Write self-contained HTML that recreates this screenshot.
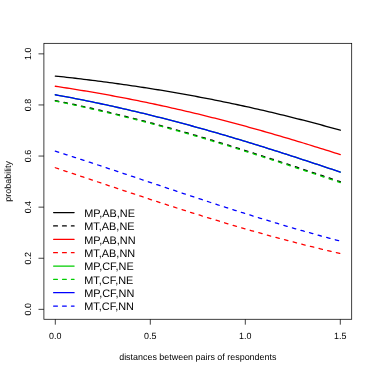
<!DOCTYPE html>
<html><head><meta charset="utf-8"><title>plot</title>
<style>
html,body{margin:0;padding:0;background:#fff;}
body{width:374px;height:374px;overflow:hidden;}
svg{display:block;will-change:transform;opacity:0.999;}
text{font-family:"Liberation Sans",sans-serif;fill:#000;text-rendering:geometricPrecision;}
.ax{font-size:8.93px;}
.lg{font-size:10.9px;}
.c{fill:none;stroke-width:1.3;stroke-linecap:round;stroke-linejoin:round;}
.d{stroke-dasharray:3.5 5.4;}
.b{fill:none;stroke:#000;stroke-width:0.75;}
.l{fill:none;stroke-width:1.25;stroke-linecap:round;}
.ld{stroke-dasharray:3.85 5.05;}
</style></head><body>
<svg width="374" height="374" viewBox="0 0 374 374">
<rect x="0" y="0" width="374" height="374" fill="#fff"/>
<path class="c" stroke="#00CD00" d="M55.30,94.75 L58.15,95.27 L61.00,95.80 L63.85,96.33 L66.70,96.87 L69.55,97.41 L72.40,97.96 L75.25,98.52 L78.10,99.08 L80.95,99.64 L83.80,100.22 L86.65,100.79 L89.50,101.37 L92.35,101.96 L95.20,102.55 L98.05,103.15 L100.90,103.76 L103.75,104.37 L106.60,104.98 L109.45,105.60 L112.30,106.23 L115.15,106.86 L118.00,107.50 L120.85,108.14 L123.70,108.79 L126.55,109.44 L129.40,110.10 L132.25,110.77 L135.10,111.44 L137.95,112.12 L140.80,112.80 L143.65,113.49 L146.50,114.18 L149.35,114.88 L152.20,115.58 L155.05,116.29 L157.90,117.01 L160.75,117.73 L163.60,118.45 L166.45,119.18 L169.30,119.92 L172.15,120.66 L175.00,121.41 L177.85,122.16 L180.70,122.92 L183.55,123.68 L186.40,124.45 L189.25,125.22 L192.10,126.00 L194.95,126.78 L197.80,127.57 L200.65,128.37 L203.50,129.17 L206.35,129.97 L209.20,130.78 L212.05,131.59 L214.90,132.41 L217.75,133.23 L220.60,134.06 L223.45,134.89 L226.30,135.73 L229.15,136.57 L232.00,137.41 L234.85,138.26 L237.70,139.12 L240.55,139.97 L243.40,140.84 L246.25,141.70 L249.10,142.57 L251.95,143.45 L254.80,144.33 L257.65,145.21 L260.50,146.10 L263.35,146.99 L266.20,147.88 L269.05,148.78 L271.90,149.68 L274.75,150.58 L277.60,151.49 L280.45,152.40 L283.30,153.31 L286.15,154.23 L289.00,155.15 L291.85,156.07 L294.70,156.99 L297.55,157.92 L300.40,158.85 L303.25,159.78 L306.10,160.72 L308.95,161.66 L311.80,162.60 L314.65,163.54 L317.50,164.48 L320.35,165.43 L323.20,166.37 L326.05,167.32 L328.90,168.27 L331.75,169.22 L334.60,170.18 L337.45,171.13 L340.30,172.09"/>
<path class="c" stroke="#0000FF" d="M55.30,94.75 L58.15,95.27 L61.00,95.80 L63.85,96.33 L66.70,96.87 L69.55,97.41 L72.40,97.96 L75.25,98.52 L78.10,99.08 L80.95,99.64 L83.80,100.22 L86.65,100.79 L89.50,101.37 L92.35,101.96 L95.20,102.55 L98.05,103.15 L100.90,103.76 L103.75,104.37 L106.60,104.98 L109.45,105.60 L112.30,106.23 L115.15,106.86 L118.00,107.50 L120.85,108.14 L123.70,108.79 L126.55,109.44 L129.40,110.10 L132.25,110.77 L135.10,111.44 L137.95,112.12 L140.80,112.80 L143.65,113.49 L146.50,114.18 L149.35,114.88 L152.20,115.58 L155.05,116.29 L157.90,117.01 L160.75,117.73 L163.60,118.45 L166.45,119.18 L169.30,119.92 L172.15,120.66 L175.00,121.41 L177.85,122.16 L180.70,122.92 L183.55,123.68 L186.40,124.45 L189.25,125.22 L192.10,126.00 L194.95,126.78 L197.80,127.57 L200.65,128.37 L203.50,129.17 L206.35,129.97 L209.20,130.78 L212.05,131.59 L214.90,132.41 L217.75,133.23 L220.60,134.06 L223.45,134.89 L226.30,135.73 L229.15,136.57 L232.00,137.41 L234.85,138.26 L237.70,139.12 L240.55,139.97 L243.40,140.84 L246.25,141.70 L249.10,142.57 L251.95,143.45 L254.80,144.33 L257.65,145.21 L260.50,146.10 L263.35,146.99 L266.20,147.88 L269.05,148.78 L271.90,149.68 L274.75,150.58 L277.60,151.49 L280.45,152.40 L283.30,153.31 L286.15,154.23 L289.00,155.15 L291.85,156.07 L294.70,156.99 L297.55,157.92 L300.40,158.85 L303.25,159.78 L306.10,160.72 L308.95,161.66 L311.80,162.60 L314.65,163.54 L317.50,164.48 L320.35,165.43 L323.20,166.37 L326.05,167.32 L328.90,168.27 L331.75,169.22 L334.60,170.18 L337.45,171.13 L340.30,172.09"/>
<path class="c" stroke="#FF0000" d="M55.30,86.25 L58.15,86.68 L61.00,87.11 L63.85,87.55 L66.70,87.99 L69.55,88.44 L72.40,88.89 L75.25,89.35 L78.10,89.81 L80.95,90.28 L83.80,90.75 L86.65,91.23 L89.50,91.71 L92.35,92.20 L95.20,92.69 L98.05,93.19 L100.90,93.69 L103.75,94.20 L106.60,94.72 L109.45,95.23 L112.30,95.76 L115.15,96.29 L118.00,96.82 L120.85,97.36 L123.70,97.91 L126.55,98.46 L129.40,99.01 L132.25,99.58 L135.10,100.14 L137.95,100.71 L140.80,101.29 L143.65,101.87 L146.50,102.46 L149.35,103.06 L152.20,103.66 L155.05,104.26 L157.90,104.87 L160.75,105.49 L163.60,106.11 L166.45,106.74 L169.30,107.37 L172.15,108.01 L175.00,108.65 L177.85,109.30 L180.70,109.95 L183.55,110.61 L186.40,111.28 L189.25,111.95 L192.10,112.62 L194.95,113.30 L197.80,113.99 L200.65,114.68 L203.50,115.38 L206.35,116.08 L209.20,116.79 L212.05,117.51 L214.90,118.23 L217.75,118.95 L220.60,119.68 L223.45,120.42 L226.30,121.16 L229.15,121.90 L232.00,122.65 L234.85,123.41 L237.70,124.17 L240.55,124.94 L243.40,125.71 L246.25,126.49 L249.10,127.27 L251.95,128.05 L254.80,128.85 L257.65,129.64 L260.50,130.44 L263.35,131.25 L266.20,132.06 L269.05,132.87 L271.90,133.69 L274.75,134.52 L277.60,135.35 L280.45,136.18 L283.30,137.02 L286.15,137.86 L289.00,138.71 L291.85,139.56 L294.70,140.41 L297.55,141.27 L300.40,142.14 L303.25,143.00 L306.10,143.87 L308.95,144.75 L311.80,145.63 L314.65,146.51 L317.50,147.39 L320.35,148.28 L323.20,149.18 L326.05,150.07 L328.90,150.97 L331.75,151.87 L334.60,152.78 L337.45,153.69 L340.30,154.60"/>
<path class="c" stroke="#000000" d="M55.30,76.04 L58.15,76.35 L61.00,76.66 L63.85,76.97 L66.70,77.29 L69.55,77.62 L72.40,77.94 L75.25,78.27 L78.10,78.61 L80.95,78.95 L83.80,79.29 L86.65,79.64 L89.50,79.99 L92.35,80.35 L95.20,80.71 L98.05,81.07 L100.90,81.44 L103.75,81.81 L106.60,82.19 L109.45,82.57 L112.30,82.95 L115.15,83.34 L118.00,83.74 L120.85,84.14 L123.70,84.54 L126.55,84.95 L129.40,85.36 L132.25,85.78 L135.10,86.20 L137.95,86.63 L140.80,87.06 L143.65,87.50 L146.50,87.94 L149.35,88.39 L152.20,88.84 L155.05,89.29 L157.90,89.75 L160.75,90.22 L163.60,90.69 L166.45,91.17 L169.30,91.65 L172.15,92.13 L175.00,92.62 L177.85,93.12 L180.70,93.62 L183.55,94.13 L186.40,94.64 L189.25,95.16 L192.10,95.68 L194.95,96.21 L197.80,96.74 L200.65,97.28 L203.50,97.82 L206.35,98.37 L209.20,98.92 L212.05,99.48 L214.90,100.04 L217.75,100.61 L220.60,101.19 L223.45,101.77 L226.30,102.36 L229.15,102.95 L232.00,103.54 L234.85,104.15 L237.70,104.75 L240.55,105.37 L243.40,105.99 L246.25,106.61 L249.10,107.24 L251.95,107.87 L254.80,108.51 L257.65,109.16 L260.50,109.81 L263.35,110.47 L266.20,111.13 L269.05,111.80 L271.90,112.47 L274.75,113.15 L277.60,113.83 L280.45,114.52 L283.30,115.22 L286.15,115.92 L289.00,116.63 L291.85,117.34 L294.70,118.05 L297.55,118.77 L300.40,119.50 L303.25,120.23 L306.10,120.97 L308.95,121.71 L311.80,122.46 L314.65,123.21 L317.50,123.97 L320.35,124.73 L323.20,125.50 L326.05,126.28 L328.90,127.05 L331.75,127.84 L334.60,128.63 L337.45,129.42 L340.30,130.22"/>
<path class="c d" stroke="#000000" d="M55.30,100.58 L58.15,101.16 L61.00,101.74 L63.85,102.33 L66.70,102.92 L69.55,103.52 L72.40,104.12 L75.25,104.73 L78.10,105.35 L80.95,105.97 L83.80,106.59 L86.65,107.22 L89.50,107.86 L92.35,108.50 L95.20,109.15 L98.05,109.80 L100.90,110.46 L103.75,111.13 L106.60,111.80 L109.45,112.47 L112.30,113.15 L115.15,113.84 L118.00,114.53 L120.85,115.23 L123.70,115.93 L126.55,116.64 L129.40,117.35 L132.25,118.07 L135.10,118.79 L137.95,119.52 L140.80,120.26 L143.65,121.00 L146.50,121.74 L149.35,122.49 L152.20,123.25 L155.05,124.01 L157.90,124.77 L160.75,125.54 L163.60,126.32 L166.45,127.10 L169.30,127.89 L172.15,128.68 L175.00,129.47 L177.85,130.27 L180.70,131.08 L183.55,131.89 L186.40,132.70 L189.25,133.52 L192.10,134.35 L194.95,135.17 L197.80,136.01 L200.65,136.85 L203.50,137.69 L206.35,138.53 L209.20,139.38 L212.05,140.24 L214.90,141.10 L217.75,141.96 L220.60,142.83 L223.45,143.70 L226.30,144.57 L229.15,145.45 L232.00,146.33 L234.85,147.22 L237.70,148.11 L240.55,149.00 L243.40,149.89 L246.25,150.79 L249.10,151.69 L251.95,152.60 L254.80,153.51 L257.65,154.42 L260.50,155.33 L263.35,156.25 L266.20,157.17 L269.05,158.09 L271.90,159.02 L274.75,159.95 L277.60,160.88 L280.45,161.81 L283.30,162.74 L286.15,163.68 L289.00,164.62 L291.85,165.56 L294.70,166.50 L297.55,167.44 L300.40,168.39 L303.25,169.33 L306.10,170.28 L308.95,171.23 L311.80,172.18 L314.65,173.13 L317.50,174.08 L320.35,175.03 L323.20,175.99 L326.05,176.94 L328.90,177.89 L331.75,178.85 L334.60,179.80 L337.45,180.76 L340.30,181.72"/>
<path class="c d" stroke="#00CD00" d="M55.30,101.08 L58.15,101.66 L61.00,102.25 L63.85,102.84 L66.70,103.44 L69.55,104.04 L72.40,104.65 L75.25,105.27 L78.10,105.88 L80.95,106.51 L83.80,107.14 L86.65,107.78 L89.50,108.42 L92.35,109.07 L95.20,109.72 L98.05,110.38 L100.90,111.04 L103.75,111.71 L106.60,112.38 L109.45,113.06 L112.30,113.75 L115.15,114.44 L118.00,115.14 L120.85,115.84 L123.70,116.54 L126.55,117.26 L129.40,117.97 L132.25,118.70 L135.10,119.43 L137.95,120.16 L140.80,120.90 L143.65,121.64 L146.50,122.39 L149.35,123.15 L152.20,123.91 L155.05,124.67 L157.90,125.44 L160.75,126.22 L163.60,127.00 L166.45,127.78 L169.30,128.57 L172.15,129.37 L175.00,130.17 L177.85,130.97 L180.70,131.78 L183.55,132.60 L186.40,133.42 L189.25,134.24 L192.10,135.07 L194.95,135.90 L197.80,136.74 L200.65,137.58 L203.50,138.42 L206.35,139.27 L209.20,140.13 L212.05,140.98 L214.90,141.85 L217.75,142.71 L220.60,143.58 L223.45,144.46 L226.30,145.33 L229.15,146.22 L232.00,147.10 L234.85,147.99 L237.70,148.88 L240.55,149.78 L243.40,150.67 L246.25,151.58 L249.10,152.48 L251.95,153.39 L254.80,154.30 L257.65,155.22 L260.50,156.13 L263.35,157.05 L266.20,157.97 L269.05,158.90 L271.90,159.83 L274.75,160.75 L277.60,161.69 L280.45,162.62 L283.30,163.56 L286.15,164.49 L289.00,165.43 L291.85,166.37 L294.70,167.32 L297.55,168.26 L300.40,169.21 L303.25,170.16 L306.10,171.10 L308.95,172.05 L311.80,173.00 L314.65,173.96 L317.50,174.91 L320.35,175.86 L323.20,176.82 L326.05,177.77 L328.90,178.72 L331.75,179.68 L334.60,180.64 L337.45,181.59 L340.30,182.55"/>
<path class="c d" stroke="#FF0000" d="M55.30,167.75 L58.15,168.69 L61.00,169.63 L63.85,170.58 L66.70,171.53 L69.55,172.48 L72.40,173.43 L75.25,174.38 L78.10,175.33 L80.95,176.28 L83.80,177.23 L86.65,178.19 L89.50,179.14 L92.35,180.09 L95.20,181.05 L98.05,182.00 L100.90,182.96 L103.75,183.91 L106.60,184.86 L109.45,185.82 L112.30,186.77 L115.15,187.72 L118.00,188.67 L120.85,189.62 L123.70,190.57 L126.55,191.52 L129.40,192.47 L132.25,193.41 L135.10,194.36 L137.95,195.30 L140.80,196.24 L143.65,197.18 L146.50,198.12 L149.35,199.05 L152.20,199.99 L155.05,200.92 L157.90,201.85 L160.75,202.78 L163.60,203.71 L166.45,204.63 L169.30,205.55 L172.15,206.47 L175.00,207.38 L177.85,208.30 L180.70,209.21 L183.55,210.11 L186.40,211.02 L189.25,211.92 L192.10,212.81 L194.95,213.71 L197.80,214.60 L200.65,215.49 L203.50,216.37 L206.35,217.25 L209.20,218.13 L212.05,219.00 L214.90,219.87 L217.75,220.73 L220.60,221.59 L223.45,222.45 L226.30,223.30 L229.15,224.15 L232.00,225.00 L234.85,225.84 L237.70,226.67 L240.55,227.50 L243.40,228.33 L246.25,229.15 L249.10,229.97 L251.95,230.78 L254.80,231.59 L257.65,232.40 L260.50,233.19 L263.35,233.99 L266.20,234.78 L269.05,235.56 L271.90,236.34 L274.75,237.11 L277.60,237.88 L280.45,238.65 L283.30,239.41 L286.15,240.16 L289.00,240.91 L291.85,241.65 L294.70,242.39 L297.55,243.12 L300.40,243.85 L303.25,244.58 L306.10,245.29 L308.95,246.00 L311.80,246.71 L314.65,247.41 L317.50,248.11 L320.35,248.80 L323.20,249.48 L326.05,250.16 L328.90,250.84 L331.75,251.50 L334.60,252.17 L337.45,252.82 L340.30,253.48"/>
<path class="c d" stroke="#0000FF" d="M55.30,151.16 L58.15,152.06 L61.00,152.97 L63.85,153.88 L66.70,154.79 L69.55,155.71 L72.40,156.62 L75.25,157.55 L78.10,158.47 L80.95,159.40 L83.80,160.33 L86.65,161.26 L89.50,162.19 L92.35,163.12 L95.20,164.06 L98.05,165.00 L100.90,165.94 L103.75,166.89 L106.60,167.83 L109.45,168.78 L112.30,169.72 L115.15,170.67 L118.00,171.62 L120.85,172.57 L123.70,173.52 L126.55,174.48 L129.40,175.43 L132.25,176.38 L135.10,177.34 L137.95,178.29 L140.80,179.25 L143.65,180.20 L146.50,181.16 L149.35,182.12 L152.20,183.07 L155.05,184.03 L157.90,184.98 L160.75,185.94 L163.60,186.89 L166.45,187.84 L169.30,188.80 L172.15,189.75 L175.00,190.70 L177.85,191.65 L180.70,192.60 L183.55,193.55 L186.40,194.49 L189.25,195.44 L192.10,196.38 L194.95,197.32 L197.80,198.26 L200.65,199.20 L203.50,200.14 L206.35,201.07 L209.20,202.00 L212.05,202.93 L214.90,203.86 L217.75,204.78 L220.60,205.70 L223.45,206.62 L226.30,207.54 L229.15,208.46 L232.00,209.37 L234.85,210.27 L237.70,211.18 L240.55,212.08 L243.40,212.98 L246.25,213.88 L249.10,214.77 L251.95,215.66 L254.80,216.54 L257.65,217.42 L260.50,218.30 L263.35,219.17 L266.20,220.04 L269.05,220.91 L271.90,221.77 L274.75,222.63 L277.60,223.48 L280.45,224.33 L283.30,225.18 L286.15,226.02 L289.00,226.85 L291.85,227.69 L294.70,228.51 L297.55,229.34 L300.40,230.15 L303.25,230.97 L306.10,231.78 L308.95,232.58 L311.80,233.38 L314.65,234.17 L317.50,234.96 L320.35,235.75 L323.20,236.53 L326.05,237.30 L328.90,238.07 L331.75,238.84 L334.60,239.60 L337.45,240.35 L340.30,241.10"/>
<rect class="b" x="43.90" y="43.33" width="307.80" height="275.94"/>
<line class="b" x1="55.30" y1="319.27" x2="55.30" y2="324.67"/>
<text class="ax" x="55.30" y="339.0" text-anchor="middle">0.0</text>
<line class="b" x1="150.30" y1="319.27" x2="150.30" y2="324.67"/>
<text class="ax" x="150.30" y="339.0" text-anchor="middle">0.5</text>
<line class="b" x1="245.30" y1="319.27" x2="245.30" y2="324.67"/>
<text class="ax" x="245.30" y="339.0" text-anchor="middle">1.0</text>
<line class="b" x1="340.30" y1="319.27" x2="340.30" y2="324.67"/>
<text class="ax" x="340.30" y="339.0" text-anchor="middle">1.5</text>
<line class="b" x1="43.90" y1="309.35" x2="38.50" y2="309.35"/>
<text class="ax" transform="translate(30.8,309.35) rotate(-90)" text-anchor="middle">0.0</text>
<line class="b" x1="43.90" y1="258.25" x2="38.50" y2="258.25"/>
<text class="ax" transform="translate(30.8,258.25) rotate(-90)" text-anchor="middle">0.2</text>
<line class="b" x1="43.90" y1="207.15" x2="38.50" y2="207.15"/>
<text class="ax" transform="translate(30.8,207.15) rotate(-90)" text-anchor="middle">0.4</text>
<line class="b" x1="43.90" y1="156.05" x2="38.50" y2="156.05"/>
<text class="ax" transform="translate(30.8,156.05) rotate(-90)" text-anchor="middle">0.6</text>
<line class="b" x1="43.90" y1="104.95" x2="38.50" y2="104.95"/>
<text class="ax" transform="translate(30.8,104.95) rotate(-90)" text-anchor="middle">0.8</text>
<line class="b" x1="43.90" y1="53.85" x2="38.50" y2="53.85"/>
<text class="ax" transform="translate(30.8,53.85) rotate(-90)" text-anchor="middle">1.0</text>
<text class="ax" x="197.80" y="360.0" text-anchor="middle">distances between pairs of respondents</text>
<text class="ax" transform="translate(10.65,181.30) rotate(-90)" text-anchor="middle">probability</text>
<path class="l" stroke="#000000" d="M53.6,212.60 L74.1,212.60"/>
<text class="lg" x="84.3" y="217.00">MP,AB,NE</text>
<path class="l ld" stroke="#000000" d="M53.6,225.95 L74.1,225.95"/>
<text class="lg" x="84.3" y="230.35">MT,AB,NE</text>
<path class="l" stroke="#FF0000" d="M53.6,239.30 L74.1,239.30"/>
<text class="lg" x="84.3" y="243.70">MP,AB,NN</text>
<path class="l ld" stroke="#FF0000" d="M53.6,252.65 L74.1,252.65"/>
<text class="lg" x="84.3" y="257.05">MT,AB,NN</text>
<path class="l" stroke="#00CD00" d="M53.6,266.00 L74.1,266.00"/>
<text class="lg" x="84.3" y="270.40">MP,CF,NE</text>
<path class="l ld" stroke="#00CD00" d="M53.6,279.35 L74.1,279.35"/>
<text class="lg" x="84.3" y="283.75">MT,CF,NE</text>
<path class="l" stroke="#0000FF" d="M53.6,292.70 L74.1,292.70"/>
<text class="lg" x="84.3" y="297.10">MP,CF,NN</text>
<path class="l ld" stroke="#0000FF" d="M53.6,306.05 L74.1,306.05"/>
<text class="lg" x="84.3" y="310.45">MT,CF,NN</text>
</svg></body></html>
